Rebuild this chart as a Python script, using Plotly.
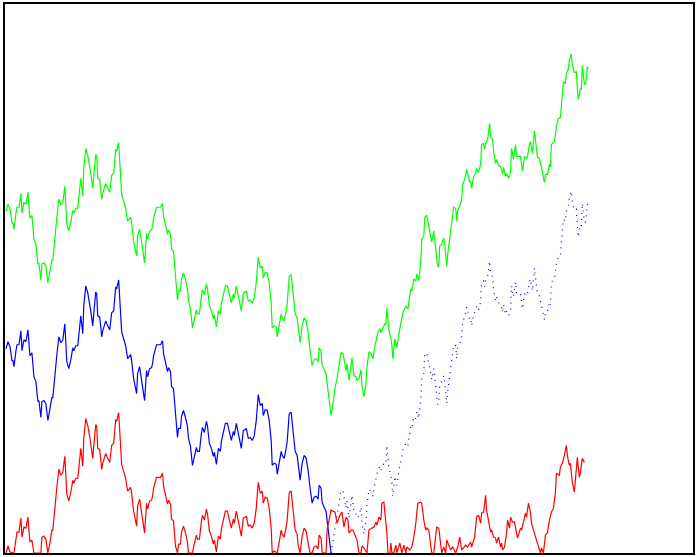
import plotly.graph_objects as go

# time index shared by the green and blue series
t = [1, 3, 5, 7, 8, 9, 11, 12, 14, 16, 17, 19, 21, 23, 25, 27, 29, 31, 33, 34, 36, 37, 39, 41, 43, 45, 47, 48,
     50, 52, 54, 56, 58, 60, 62, 64, 66, 68, 69, 71, 73, 74, 76, 78, 79, 81, 83, 86, 88, 89, 91, 92, 93, 95, 97,
     98, 101, 103, 105, 107, 109, 111, 112, 114, 115, 117, 119, 121, 123, 125, 126, 127, 129, 132, 133, 135, 137,
     140, 142, 143, 145, 147, 148, 149, 152, 154, 156, 158, 159, 161, 163, 164, 166, 167, 169, 171, 173, 174, 176,
     177, 179, 181, 183, 184, 186, 188, 190, 192, 193, 195, 197, 198, 200, 202, 203, 205, 207, 209, 210, 212, 214,
     216, 217, 219, 221, 223, 225, 227, 229, 230, 232, 233, 235, 237, 239, 241, 242, 244, 246, 248, 250, 252, 253,
     254, 256, 258, 259, 261, 263, 265, 267, 268, 270, 272, 273, 275, 277, 278, 280, 282, 283, 285, 286, 287, 289,
     291, 293, 294, 296, 298, 300, 302, 304, 306, 308, 310, 312, 314, 315, 317, 318, 320, 322, 323, 325, 327, 329,
     331, 333, 335, 337, 339, 341, 342, 343, 345, 347, 348, 350, 352, 353, 355, 357, 358, 360, 362, 363, 365, 367,
     369, 371, 373, 374, 376, 377, 379, 381, 382, 383, 385, 387, 388, 389, 391, 393, 395, 398, 399, 402, 404, 407,
     408, 410, 412, 413, 415, 417, 418, 420, 421, 423, 425, 427, 428, 430, 432, 434, 435, 436, 438, 440, 441, 443,
     444, 446, 448, 450, 452, 453, 454, 456, 458, 459, 461, 463, 464, 466, 467, 468, 470, 472, 473, 475, 477, 478,
     480, 481, 482, 484, 486, 487, 489, 490, 492, 493, 495, 497, 499, 500, 502, 503, 505, 507, 508, 510, 512, 513,
     515, 517, 519, 521, 523, 524, 526, 527, 529, 530, 531, 533, 534, 536, 538, 539, 541, 542, 544, 546, 547, 548,
     551, 553, 555, 557, 558, 560, 562, 563, 565, 566, 568, 569, 571, 573, 574, 575, 577, 578, 579, 581, 582, 583,
     584, 585]

green = [343, 350, 345, 331, 331, 325, 341, 347, 347, 361, 341, 352, 350, 362, 336, 339, 315, 310, 290, 291, 274,
         290, 291, 288, 271, 281, 294, 294, 318, 337, 355, 349, 352, 368, 330, 323, 332, 344, 341, 346, 346, 355, 376,
         358, 386, 406, 399, 381, 366, 378, 400, 398, 376, 375, 355, 361, 371, 366, 362, 379, 381, 405, 403, 412, 395,
         360, 353, 346, 333, 335, 337, 331, 313, 298, 318, 325, 311, 291, 321, 315, 323, 324, 328, 336, 347, 347, 347,
         351, 338, 329, 320, 324, 320, 305, 303, 278, 254, 263, 263, 275, 281, 274, 265, 253, 245, 226, 236, 244, 240,
         240, 258, 264, 259, 270, 266, 248, 243, 235, 239, 227, 243, 240, 250, 260, 268, 268, 258, 251, 260, 256, 268,
         264, 253, 243, 261, 262, 263, 253, 254, 251, 256, 271, 288, 297, 286, 288, 276, 282, 281, 271, 250, 226, 228,
         227, 217, 228, 240, 236, 233, 243, 250, 277, 279, 279, 260, 240, 236, 225, 211, 228, 236, 233, 221, 203, 188,
         194, 195, 192, 206, 203, 189, 184, 180, 171, 156, 138, 150, 166, 175, 186, 201, 200, 188, 183, 190, 173, 188,
         196, 178, 177, 173, 175, 184, 168, 157, 170, 186, 202, 200, 195, 208, 219, 221, 225, 221, 226, 230, 229, 246,
         223, 216, 208, 195, 215, 206, 220, 236, 241, 248, 245, 265, 263, 275, 273, 280, 273, 293, 315, 318, 337, 339,
         328, 315, 312, 323, 303, 287, 288, 308, 310, 316, 310, 288, 300, 317, 330, 347, 346, 333, 344, 348, 355, 370,
         375, 385, 381, 372, 373, 366, 378, 381, 386, 382, 390, 410, 411, 405, 411, 415, 431, 418, 415, 403, 391, 395,
         389, 388, 380, 387, 378, 381, 376, 381, 406, 395, 410, 398, 398, 398, 383, 398, 396, 398, 410, 413, 401, 413,
         424, 406, 397, 396, 385, 381, 372, 380, 380, 390, 387, 410, 413, 428, 436, 437, 451, 473, 471, 481, 486, 495,
         501, 490, 482, 483, 466, 455, 466, 465, 489, 471, 470, 476, 488, 486]

blue = [205, 212, 207, 193, 193, 187, 203, 209, 209, 223, 203, 214, 212, 224, 198, 201, 177, 172, 152, 153, 136,
        152, 153, 150, 133, 143, 156, 156, 180, 199, 217, 211, 214, 230, 192, 185, 194, 206, 203, 208, 208, 217, 238,
        220, 248, 268, 261, 243, 228, 240, 262, 260, 238, 237, 217, 223, 233, 228, 224, 241, 243, 267, 265, 274, 257,
        222, 215, 208, 195, 197, 199, 193, 175, 160, 180, 187, 173, 153, 183, 177, 185, 186, 190, 198, 209, 209, 209,
        213, 200, 191, 182, 186, 182, 167, 165, 140, 116, 125, 125, 137, 143, 136, 127, 115, 107, 88, 98, 106, 102,
        102, 120, 126, 121, 132, 128, 110, 105, 97, 101, 89, 105, 102, 112, 122, 130, 130, 120, 113, 122, 118, 130,
        126, 115, 105, 123, 124, 125, 115, 116, 113, 118, 133, 150, 159, 148, 150, 138, 144, 143, 133, 112, 88, 90,
        89, 79, 90, 102, 98, 95, 105, 112, 139, 141, 141, 122, 102, 98, 87, 73, 90, 98, 95, 83, 65, 50,
        56, 57, 54, 68, 65, 51, 46, 42, 33, 18, 0, 12, 28, 37, 48, 63, 62, 50, 45, 52, 35, 50,
        58, 40, 39, 35, 37, 46, 30, 19, 32, 48, 64, 62, 57, 70, 81, 83, 87, 83, 88, 92, 91, 108,
        85, 78, 70, 57, 77, 68, 82, 98, 103, 110, 107, 127, 125, 137, 135, 142, 135, 155, 177, 180, 199, 201,
        190, 177, 174, 185, 165, 149, 150, 170, 172, 178, 172, 150, 162, 179, 192, 209, 208, 195, 206, 210, 217, 232,
        237, 247, 243, 234, 235, 228, 240, 243, 248, 244, 252, 272, 273, 267, 273, 277, 293, 280, 277, 265, 253, 257,
        251, 250, 242, 249, 240, 243, 238, 243, 268, 257, 272, 260, 260, 260, 245, 260, 258, 260, 272, 275, 263, 275,
        286, 268, 259, 258, 247, 243, 234, 242, 242, 252, 249, 272, 275, 290, 298, 299, 313, 335, 333, 343, 348, 357,
        363, 352, 344, 345, 328, 317, 328, 327, 351, 333, 332, 338, 350, 348]

# time index of the red series
t_red = [1, 3, 5, 7, 8, 9, 11, 12, 14, 16, 17, 19, 21, 23, 25, 27, 29, 31, 33, 34, 36, 37, 39, 41, 43, 45, 47, 48,
         50, 52, 54, 56, 58, 60, 62, 64, 66, 68, 69, 71, 73, 74, 76, 78, 79, 81, 83, 86, 88, 89, 91, 92, 93, 95, 97,
         98, 101, 103, 105, 107, 109, 111, 112, 114, 115, 117, 119, 121, 123, 125, 126, 127, 129, 132, 133, 135, 137,
         140, 142, 143, 145, 147, 148, 149, 152, 154, 156, 158, 159, 161, 163, 164, 166, 167, 169, 171, 173, 174, 176,
         177, 179, 181, 183, 184, 186, 188, 190, 192, 193, 195, 197, 198, 200, 202, 203, 205, 207, 209, 210, 212, 214,
         216, 217, 219, 221, 223, 225, 227, 229, 230, 232, 233, 235, 237, 239, 241, 242, 244, 246, 248, 250, 252, 253,
         254, 256, 258, 259, 261, 263, 265, 267, 268, 270, 272, 273, 275, 277, 278, 280, 282, 283, 285, 286, 287, 289,
         291, 293, 294, 296, 298, 300, 302, 304, 306, 308, 310, 312, 314, 315, 317, 318, 320, 322, 323, 325, 327,
         331, 333, 336, 338, 340, 342, 344, 345, 347, 349, 351, 353, 355, 357, 358, 360, 363, 365, 368, 370, 372, 373,
         375, 377, 378, 380, 382, 383, 384, 386, 387, 388, 390, 392, 393, 396, 398, 400, 402, 403, 406, 408, 410, 412,
         414, 417, 418, 420, 422, 423, 425, 427, 428, 430, 432, 433, 435, 437, 438, 440, 442, 443, 447, 449, 452, 454,
         456, 458, 460, 462, 464, 467, 468, 471, 473, 475, 477, 478, 480, 482, 483, 485, 487, 488, 490, 492, 493, 495,
         497, 498, 499, 501, 503, 504, 506, 507, 509, 511, 512, 514, 517, 518, 520, 522, 523, 525, 527, 528, 530, 531,
         533, 535, 537, 538, 540, 542, 544, 546, 548, 550, 552, 553, 556, 557, 559, 561, 563, 564, 566, 567, 569, 571,
         572, 574, 576, 577, 579, 581, 583, 584, 585]

red = [0, 7, 1, 0, 0, 0, 18, 21, 21, 35, 16, 26, 25, 36, 11, 13, 0, 0, 0, 0, 0, 16, 17, 14, 0, 10, 23, 23,
       47, 66, 84, 78, 81, 97, 59, 52, 61, 73, 70, 75, 75, 84, 105, 87, 115, 135, 128, 110, 95, 107, 129, 127, 105,
       104, 84, 90, 100, 95, 91, 108, 110, 134, 132, 141, 124, 89, 82, 75, 62, 64, 66, 60, 42, 27, 47, 54, 40, 20, 50,
       44, 52, 53, 57, 65, 76, 76, 76, 80, 67, 58, 49, 53, 49, 34, 32, 7, 0, 9, 9, 21, 27, 20, 11, 0, 0, 0, 10, 18,
       14, 14, 32, 38, 33, 44, 40, 22, 17, 9, 13, 1, 17, 14, 24, 34, 42, 42, 32, 25, 34, 30, 42, 38, 27, 17, 35, 36,
       37, 27, 28, 25, 30, 45, 62, 71, 60, 62, 50, 56, 55, 45, 24, 0, 2, 1, 0, 11, 23, 19, 16, 26, 33, 60, 62, 62,
       43, 23, 19, 8, 0, 17, 25, 22, 10, 0, 0, 6, 7, 4, 18, 15, 1, 0, 0,
       23, 33, 43, 41, 30, 38, 41, 26, 36, 33, 20, 23, 23, 18, 13, 0, 0, 7, 5, 0, 23, 25, 26, 31, 28, 36, 33, 50,
       51, 30, 21, 0, 0, 10, 0, 0, 8, 0, 10, 0, 8, 0, 6, 3, 6, 16, 30, 50, 51, 50, 33, 23, 25, 23, 3, 0, 0, 16, 26,
       25, 10, 0, 6, 0, 13, 3, 6, 0, 6, 16, 3, 6, 8, 6, 11, 6, 16, 36, 38, 30, 40, 41, 58, 43, 31, 21, 23, 16, 15,
       10, 16, 6, 10, 3, 6, 20, 33, 25, 36, 31, 31, 25, 15, 25, 23, 31, 40, 36, 50, 41, 30, 23, 20, 13, 6, 0, 5, 0,
       18, 20, 33, 41, 45, 60, 80, 78, 86, 90, 98, 108, 98, 88, 90, 71, 61, 73, 96, 76, 80, 95, 91]

# index where the blue line changes from solid to dotted (its lowest point)
split = blue.index(min(blue))

fig = go.Figure()
fig.add_trace(go.Scatter(x=t, y=green, mode="lines", line=dict(color="#00ff00", width=1.2),
                         showlegend=False, hoverinfo="skip"))
fig.add_trace(go.Scatter(x=t[:split + 1], y=blue[:split + 1], mode="lines",
                         line=dict(color="#0000ff", width=1.2), showlegend=False, hoverinfo="skip"))
fig.add_trace(go.Scatter(x=t[split:], y=blue[split:], mode="lines",
                         line=dict(color="#0000ff", width=1.2, dash="1px,5px"),
                         showlegend=False, hoverinfo="skip"))
fig.add_trace(go.Scatter(x=t_red, y=red, mode="lines", line=dict(color="#ff0000", width=1.2),
                         showlegend=False, hoverinfo="skip"))

axis_common = dict(showgrid=False, zeroline=False, showticklabels=False, ticks="",
                   showline=True, linecolor="black", linewidth=1.5, mirror=True)
fig.update_layout(
    width=697, height=557,
    margin=dict(l=5, r=2, t=2, b=4),
    paper_bgcolor="white", plot_bgcolor="white",
    hovermode=False,
    xaxis=dict(range=[0, 690], **axis_common),
    yaxis=dict(range=[0, 551], **axis_common),
)
fig.write_html("out.html", config={"displayModeBar": False},
               post_script="document.body.style.margin='0';")
